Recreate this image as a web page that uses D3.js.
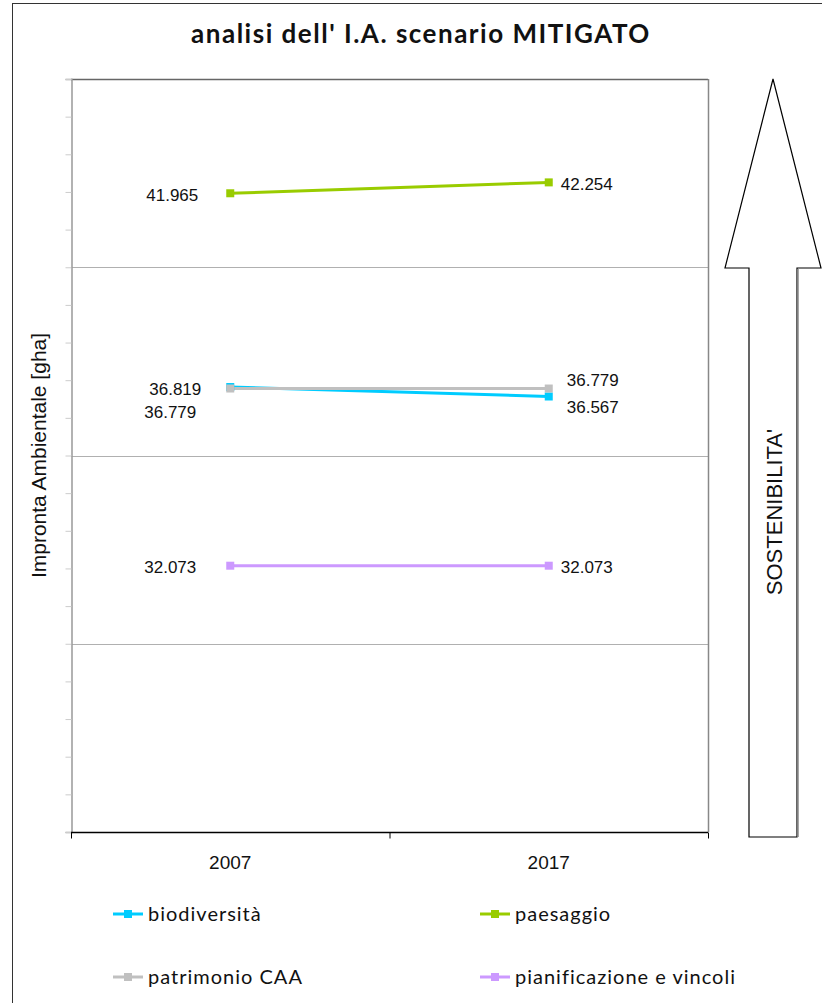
<!DOCTYPE html>
<html>
<head>
<meta charset="utf-8">
<script src="https://cdn.jsdelivr.net/npm/d3@7"></script>
<style>
  html, body { margin: 0; padding: 0; background: #fff; }
  svg { display: block; }
</style>
</head>
<body>
<svg id="chart" width="822" height="1003"></svg>
<script>
// Years on the category axis
const years = ["2007", "2017"];
// Impronta ambientale per tema [gha]
const biodiversita = [36.819, 36.567];
const paesaggio = [41.965, 42.254];
const patrimonioCAA = [36.779, 36.779];
const pianificazione = [32.073, 32.073];
const seriesNames = ["biodiversità", "paesaggio", "patrimonio CAA", "pianificazione e vincoli"];
const seriesColors = ["#00CCFF", "#99CC00", "#C0C0C0", "#CC99FF"];
const yMajorTicks = [25, 30, 35, 40, 45];
const yMinorTicks = d3.range(25, 46, 1);

const series = [
  { name: seriesNames[0], color: seriesColors[0], values: biodiversita },
  { name: seriesNames[1], color: seriesColors[1], values: paesaggio },
  { name: seriesNames[2], color: seriesColors[2], values: patrimonioCAA },
  { name: seriesNames[3], color: seriesColors[3], values: pianificazione }
];

const svg = d3.select("#chart");
const plot = { left: 71, right: 708, top: 79, bottom: 832 };
const arial = "'Liberation Sans', Arial, sans-serif";

// Outer frame
svg.append("rect").attr("x", 12.5).attr("y", 3.5).attr("width", 830).attr("height", 1010)
  .attr("fill", "#fff").attr("stroke", "#333").attr("stroke-width", 1);

// Title
svg.append("text").attr("x", 421).attr("y", 43).attr("text-anchor", "middle")
  .attr("font-family", "Lato, 'Noto Sans', sans-serif").attr("font-weight", "bold")
  .attr("font-size", 26).attr("letter-spacing", 1.5).attr("fill", "#111")
  .text("analisi dell' I.A. scenario MITIGATO");

const x = d3.scaleBand().domain(years).range([plot.left, plot.right]);
const y = d3.scaleLinear().domain([25, 45]).range([plot.bottom, plot.top]);
const cx = d => x(d) + x.bandwidth() / 2;

// Horizontal gridlines
svg.append("g").selectAll("line").data(yMajorTicks.filter(v => v > 25 && v < 45)).join("line")
  .attr("x1", plot.left).attr("x2", plot.right)
  .attr("y1", d => Math.round(y(d)) + 0.5).attr("y2", d => Math.round(y(d)) + 0.5)
  .attr("stroke", "#b0b0b0").attr("stroke-width", 1);

// Plot border: top and right
svg.append("line").attr("x1", plot.left).attr("x2", plot.right).attr("y1", plot.top + 0.5).attr("y2", plot.top + 0.5)
  .attr("stroke", "#666").attr("stroke-width", 1.5);
svg.append("line").attr("x1", plot.right + 0.5).attr("x2", plot.right + 0.5).attr("y1", plot.top).attr("y2", plot.bottom)
  .attr("stroke", "#888").attr("stroke-width", 1.5);

// Left axis with minor ticks and no labels
const yAxis = d3.axisLeft(y).tickValues(yMinorTicks).tickSize(6).tickFormat("");
const gy = svg.append("g").attr("transform", `translate(${plot.left + 0.5},0)`).call(yAxis);
gy.select(".domain").attr("stroke", "#999").attr("stroke-width", 1.5);
gy.selectAll(".tick line").attr("stroke", "#ccc");

// Bottom axis: ticks between categories
const gx = svg.append("g").attr("transform", `translate(0,${plot.bottom + 0.5})`);
gx.append("line").attr("x1", plot.left).attr("x2", plot.right).attr("stroke", "#000").attr("stroke-width", 1.5);
const bounds = years.map(d => x(d)).concat([plot.right]);
gx.selectAll("line.tk").data(bounds).join("line").attr("class", "tk")
  .attr("x1", d => d + 0.5).attr("x2", d => d + 0.5).attr("y1", 0).attr("y2", 6).attr("stroke", "#000");
gx.selectAll("text").data(years).join("text")
  .attr("x", d => cx(d)).attr("y", 36).attr("text-anchor", "middle")
  .attr("font-family", arial).attr("font-size", 19).attr("fill", "#111")
  .text(d => d);

// Y axis title
svg.append("text").attr("transform", `translate(46,${(plot.top + plot.bottom) / 2}) rotate(-90)`)
  .attr("text-anchor", "middle").attr("font-family", arial)
  .attr("font-size", 21).attr("fill", "#111").text("Impronta Ambientale [gha]");

// Series lines and markers
const line = d3.line().x((d, i) => cx(years[i])).y(d => y(d));
series.forEach(s => {
  svg.append("path").datum(s.values).attr("d", line)
    .attr("fill", "none").attr("stroke", s.color).attr("stroke-width", 3);
});
series.forEach(s => {
  svg.append("g").selectAll("rect").data(s.values).join("rect")
    .attr("x", (d, i) => cx(years[i]) - 4).attr("y", d => y(d) - 4)
    .attr("width", 8).attr("height", 8).attr("fill", s.color);
});

// Value labels
const labels = [
  { v: paesaggio[0], i: 0, dx: -58, dy: 8, anchor: "middle" },
  { v: paesaggio[1], i: 1, dx: 12, dy: 8, anchor: "start" },
  { v: biodiversita[0], i: 0, dx: -55, dy: 8, anchor: "middle" },
  { v: patrimonioCAA[0], i: 0, dx: -60, dy: 29, anchor: "middle" },
  { v: patrimonioCAA[1], i: 1, dx: 18, dy: -3, anchor: "start" },
  { v: biodiversita[1], i: 1, dx: 18, dy: 16, anchor: "start" },
  { v: pianificazione[0], i: 0, dx: -60, dy: 7, anchor: "middle" },
  { v: pianificazione[1], i: 1, dx: 12, dy: 7, anchor: "start" }
];
svg.append("g").selectAll("text").data(labels).join("text")
  .attr("x", d => cx(years[d.i]) + d.dx).attr("y", d => y(d.v) + d.dy)
  .attr("text-anchor", d => d.anchor).attr("font-family", arial).attr("font-size", 17)
  .attr("fill", "#111").text(d => d3.format(".3f")(d.v));

// Legend
const legendPos = [[113, 914], [480, 914], [113, 977], [480, 977]];
series.forEach((s, k) => {
  const [lx, ly] = legendPos[k];
  const g = svg.append("g").attr("transform", `translate(${lx},${ly})`);
  g.append("line").attr("x1", 0).attr("x2", 30).attr("y1", 0).attr("y2", 0).attr("stroke", s.color).attr("stroke-width", 3);
  g.append("rect").attr("x", 11).attr("y", -4).attr("width", 8).attr("height", 8).attr("fill", s.color);
  g.append("text").attr("x", 35).attr("y", 7).attr("font-family", "Lato, 'Noto Sans', sans-serif")
    .attr("font-size", 20).attr("letter-spacing", 1).attr("fill", "#111").text(s.name);
});

// Sustainability arrow
const arrow = d3.path();
arrow.moveTo(773, 79);
arrow.lineTo(821, 268);
arrow.lineTo(797, 268);
arrow.lineTo(797, 837);
arrow.lineTo(749, 837);
arrow.lineTo(749, 268);
arrow.lineTo(725, 268);
arrow.closePath();
svg.append("path").attr("d", arrow.toString()).attr("fill", "#fff").attr("stroke", "#000").attr("stroke-width", 1.2);
svg.append("line").attr("x1", 798).attr("x2", 798).attr("y1", 269).attr("y2", 837).attr("stroke", "#888").attr("stroke-width", 1.5);
svg.append("text").attr("transform", "translate(782,512) rotate(-90)")
  .attr("text-anchor", "middle").attr("font-family", arial)
  .attr("font-size", 22).attr("fill", "#111").text("SOSTENIBILITA'");
</script>
</body>
</html>
